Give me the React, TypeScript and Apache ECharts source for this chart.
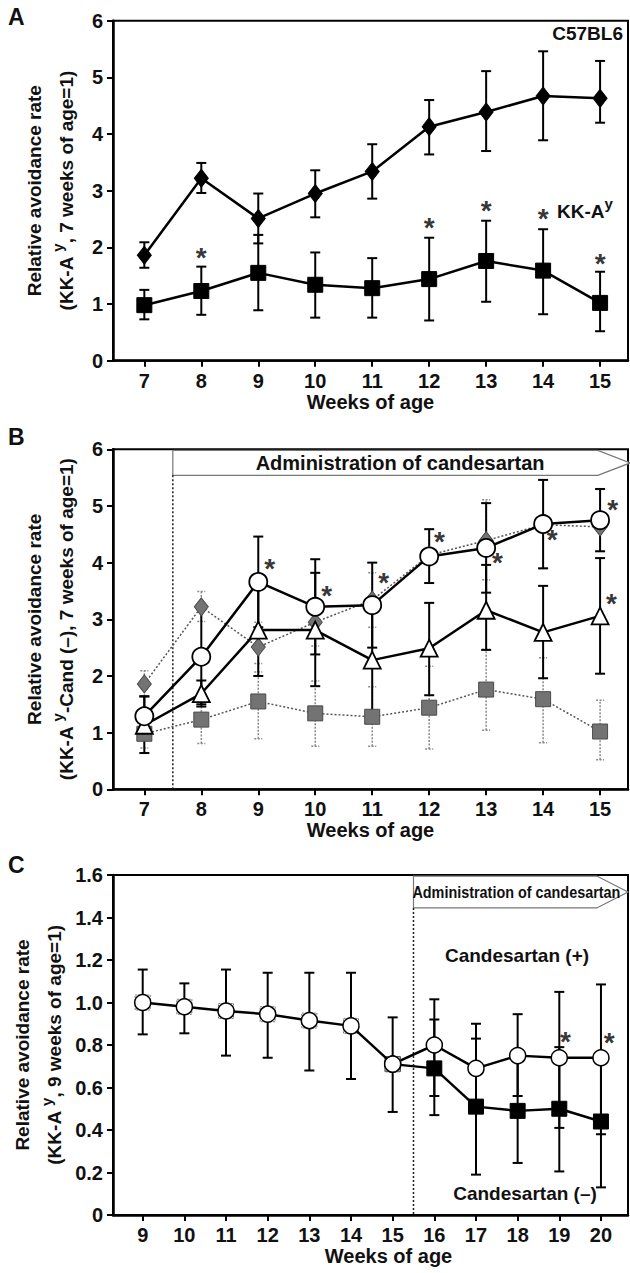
import { useEffect, useRef } from 'react';
import * as echarts from 'echarts';

const FONT = '"Liberation Sans", Arial, Helvetica, sans-serif';

// ---------- Panel A / B shared data ----------
const weeksAB = [7, 8, 9, 10, 11, 12, 13, 14, 15];
const c57Mean = [1.86, 3.22, 2.51, 2.95, 3.34, 4.13, 4.39, 4.67, 4.63];
const c57Low = [1.64, 2.96, 2.07, 2.53, 2.86, 3.64, 3.70, 3.89, 4.20];
const c57High = [2.09, 3.49, 2.95, 3.36, 3.82, 4.60, 5.11, 5.46, 5.29];
const kkMean = [0.98, 1.23, 1.55, 1.34, 1.28, 1.44, 1.76, 1.59, 1.02];
const kkLow = [0.73, 0.81, 0.89, 0.76, 0.76, 0.71, 1.04, 0.82, 0.52];
const kkHigh = [1.25, 1.66, 2.22, 1.91, 1.81, 2.17, 2.47, 2.32, 1.57];
const starAX = [8, 12, 13, 14, 15];
const starAY = [1.94, 2.48, 2.78, 2.63, 1.84];

// ---------- Panel B ----------
const circMean = [1.29, 2.34, 3.66, 3.22, 3.25, 4.11, 4.26, 4.68, 4.75];
const circLow = [0.94, 1.50, 2.86, 2.38, 2.50, 3.64, 3.47, 3.90, 4.20];
const circHigh = [1.64, 3.18, 4.46, 4.06, 4.00, 4.59, 5.05, 5.46, 5.30];
const triMean = [1.13, 1.69, 2.81, 2.81, 2.28, 2.49, 3.16, 2.77, 3.06];
const triLow = [0.64, 1.46, 2.00, 1.82, 1.30, 1.66, 2.46, 1.96, 2.04];
const triHigh = [1.64, 1.92, 3.60, 3.82, 3.26, 3.29, 3.96, 3.59, 4.08];
const starBX = [9.2, 10.2, 11.2, 12.18, 13.2, 14.16, 15.22, 15.2];
const starBY = [4.02, 3.54, 3.78, 4.49, 4.13, 4.53, 5.07, 3.40];

// ---------- Panel C ----------
const weeksPre = [9, 10, 11, 12, 13, 14, 15];
const preMean = [1.0, 0.98, 0.96, 0.945, 0.915, 0.89, 0.71];
const preLow = [0.85, 0.855, 0.75, 0.74, 0.68, 0.64, 0.485];
const preHigh = [1.155, 1.09, 1.155, 1.14, 1.14, 1.14, 0.93];
const weeksPost = [15, 16, 17, 18, 19, 20];
const plusMean = [0.71, 0.80, 0.69, 0.75, 0.74, 0.74];
const minusMean = [0.71, 0.69, 0.51, 0.49, 0.50, 0.44];
const weeksTreat = [16, 17, 18, 19, 20];
const plusLow = [0.56, 0.48, 0.56, 0.41, 0.38];
const plusHigh = [1.015, 0.90, 0.945, 1.05, 1.085];
const minusLow = [0.47, 0.19, 0.245, 0.205, 0.13];
const minusHigh = [0.92, 0.83, 0.735, 0.79, 0.74];
const starCX = [19.15, 20.2];
const starCY = [0.85, 0.845];

const ticksAB = [7, 8, 9, 10, 11, 12, 13, 14, 15];
const ticksC = [9, 10, 11, 12, 13, 14, 15, 16, 17, 18, 19, 20];

const pts = (xs: number[], ys: number[]) => xs.map((x, i) => [x, ys[i]]);

function errSeries(idx: number, xs: number[], lo: number[], hi: number[], color: string, dashed: boolean, lw: number, cap: number, z: number) {
  return {
    type: 'custom',
    xAxisIndex: idx,
    yAxisIndex: idx,
    z,
    silent: true,
    clip: false,
    data: xs.map((x, i) => [x, lo[i], hi[i]]),
    encode: { x: 0, y: [1, 2] },
    renderItem: (_p: any, api: any) => {
      const x = api.value(0);
      const a = api.coord([x, api.value(1)]);
      const b = api.coord([x, api.value(2)]);
      const style = { stroke: color, lineWidth: lw, lineDash: dashed ? [2, 1.5] : null, fill: null };
      return {
        type: 'group',
        children: [
          { type: 'line', shape: { x1: a[0], y1: a[1], x2: b[0], y2: b[1] }, style },
          { type: 'line', shape: { x1: a[0] - cap, y1: a[1], x2: a[0] + cap, y2: a[1] }, style },
          { type: 'line', shape: { x1: b[0] - cap, y1: b[1], x2: b[0] + cap, y2: b[1] }, style },
        ],
      };
    },
  };
}

function lineSeries(idx: number, xs: number[], ys: number[], o: any) {
  return {
    type: 'line',
    xAxisIndex: idx,
    yAxisIndex: idx,
    data: pts(xs, ys),
    symbol: o.symbol,
    symbolSize: o.size,
    z: o.z ?? 4,
    silent: true,
    itemStyle: { color: o.fill, borderColor: o.border, borderWidth: o.bw ?? 2, opacity: 1 },
    lineStyle: { color: o.lineColor ?? '#000', width: o.lw ?? 2.5, type: o.dash ? [2, 2] : 'solid' },
  };
}

function starSeries(idx: number, xs: number[], ys: number[]) {
  return {
    type: 'scatter',
    xAxisIndex: idx,
    yAxisIndex: idx,
    data: pts(xs, ys),
    symbolSize: 1,
    z: 8,
    silent: true,
    itemStyle: { color: 'rgba(0,0,0,0)' },
    label: {
      show: true,
      position: 'inside',
      formatter: '*',
      fontSize: 28,
      fontWeight: 'bold',
      color: '#000',
      fontFamily: FONT,
      offset: [0, 7],
    },
  };
}

function arrowSeries(idx: number, c: any) {
  return {
    type: 'custom',
    xAxisIndex: idx,
    yAxisIndex: idx,
    z: 1,
    silent: true,
    clip: false,
    data: [[c.x0, c.yTop]],
    renderItem: (_p: any, api: any) => {
      const tl = api.coord([c.x0, c.yTop]);
      const br = api.coord([c.x1, c.yBot]);
      const tip = api.coord([c.xTip, (c.yTop + c.yBot) / 2]);
      const base = api.coord([c.x0, 0]);
      const tc = api.coord([c.textX, (c.yTop + c.yBot) / 2]);
      return {
        type: 'group',
        children: [
          {
            type: 'polygon',
            shape: { points: [[tl[0], tl[1]], [br[0], tl[1]], [tip[0], tip[1]], [br[0], br[1]], [tl[0], br[1]]] },
            style: { fill: '#fff', stroke: '#777', lineWidth: 1.2 },
          },
          {
            type: 'line',
            shape: { x1: tl[0], y1: br[1], x2: base[0], y2: base[1] },
            style: { stroke: '#222', lineWidth: 1.5, lineDash: [2, 2] },
          },
          {
            type: 'text',
            x: tc[0],
            y: tc[1],
            scaleX: c.scaleX,
            style: { text: 'Administration of candesartan', font: c.font, fill: '#111', align: 'center', verticalAlign: 'middle' },
          },
        ],
      };
    },
  };
}

const tickStyle = { fontSize: 20, fontWeight: 'bold', color: '#111', fontFamily: FONT };

function xAxis(i: number, min: number, max: number, ticks: number[], padLeft: number) {
  return {
    type: 'value',
    gridIndex: i,
    min,
    max,
    axisLine: { show: true, onZero: false, lineStyle: { color: '#000', width: 2.5 } },
    axisTick: { show: true, length: 6, lineStyle: { color: '#000', width: 2 }, customValues: ticks },
    axisLabel: { ...tickStyle, margin: 10, customValues: ticks },
    splitLine: { show: false },
    name: 'Weeks of age',
    nameLocation: 'middle',
    nameGap: 31,
    nameTextStyle: { fontSize: 20, fontWeight: 'bold', color: '#111', fontFamily: FONT, padding: [0, 0, 0, padLeft] },
  };
}

function yAxis(i: number, max: number, interval: number, second: string[], fmt: any) {
  return {
    type: 'value',
    gridIndex: i,
    min: 0,
    max,
    interval,
    axisLine: { show: true, lineStyle: { color: '#000', width: 2.5 } },
    axisTick: { show: true, length: 6, lineStyle: { color: '#000', width: 2 } },
    axisLabel: { ...tickStyle, margin: 10, formatter: fmt },
    splitLine: { show: false },
    name: '{t|Relative avoidance rate}\n{t|' + second[0] + '}{s|y}{t|' + second[1] + '}',
    nameLocation: 'middle',
    nameGap: 31,
    nameTextStyle: {
      rich: {
        t: { fontSize: 19, fontWeight: 'bold', color: '#111', fontFamily: FONT, lineHeight: 32 },
        s: { fontSize: 15, fontWeight: 'bold', color: '#111', fontFamily: FONT, verticalAlign: 'top', lineHeight: 22 },
      },
    },
  };
}

export default function App() {
  const ref = useRef<HTMLDivElement>(null);
  useEffect(() => {
    document.body.style.margin = '0';
    if (!ref.current) return;
    const chart = echarts.init(ref.current, null, { renderer: 'svg' });
    const grid = (top: number) => ({ left: 113, top, width: 515, height: 340, show: true, borderColor: '#000', borderWidth: 2 });

    const blackDiamond = { symbol: 'diamond', size: [14, 18], fill: '#000', border: '#000', bw: 1 };
    const blackSquare = { symbol: 'rect', size: 15, fill: '#000', border: '#000', bw: 1 };

    const option: any = {
      animation: false,
      backgroundColor: '#fff',
      grid: [grid(20.7), grid(449.3), grid(875)],
      xAxis: [
        xAxis(0, 6.45, 15.49, ticksAB, 0),
        xAxis(1, 6.45, 15.49, ticksAB, 0),
        xAxis(2, 8.287, 20.649, ticksC, 36),
      ],
      yAxis: [
        yAxis(0, 6, 1, ['(KK-A ', ', 7 weeks of age=1)'], (v: number) => String(v)),
        yAxis(1, 6, 1, ['(KK-A ', '-Cand (\u2013), 7 weeks of age=1)'], (v: number) => String(v)),
        yAxis(2, 1.6, 0.2, ['(KK-A ', ', 9 weeks of age=1)'], (v: number) => (Math.abs(v) < 1e-9 ? '0' : v.toFixed(1))),
      ],
      graphic: [
        { type: 'text', left: 8, top: 5, style: { text: 'A', font: 'bold 23px ' + FONT, fill: '#111' } },
        { type: 'text', left: 8, top: 425, style: { text: 'B', font: 'bold 23px ' + FONT, fill: '#111' } },
        { type: 'text', left: 8, top: 853, style: { text: 'C', font: 'bold 23px ' + FONT, fill: '#111' } },
        { type: 'text', x: 623, y: 33, style: { text: 'C57BL6', font: 'bold 19px ' + FONT, fill: '#111', align: 'right', verticalAlign: 'middle' } },
        {
          type: 'text',
          x: 557,
          y: 211,
          style: {
            text: '{a|KK-A}{s|y}',
            align: 'left',
            verticalAlign: 'middle',
            rich: {
              a: { font: 'bold 19px ' + FONT, fill: '#111', lineHeight: 30 },
              s: { font: 'bold 15px ' + FONT, fill: '#111', verticalAlign: 'top', lineHeight: 20 },
            },
          },
        },
        { type: 'text', x: 517, y: 955, style: { text: 'Candesartan (+)', font: 'bold 19px ' + FONT, fill: '#111', align: 'center', verticalAlign: 'middle' } },
        { type: 'text', x: 525, y: 1193, style: { text: 'Candesartan (\u2013)', font: 'bold 19px ' + FONT, fill: '#111', align: 'center', verticalAlign: 'middle' } },
      ],
      series: [
        // ----- Panel A -----
        errSeries(0, weeksAB, c57Low, c57High, '#000', false, 2, 5, 2),
        errSeries(0, weeksAB, kkLow, kkHigh, '#000', false, 2, 5, 2),
        lineSeries(0, weeksAB, c57Mean, blackDiamond),
        lineSeries(0, weeksAB, kkMean, blackSquare),
        starSeries(0, starAX, starAY),

        // ----- Panel B -----
        arrowSeries(1, { x0: 7.5, x1: 14.96, xTip: 15.53, yTop: 5.98, yBot: 5.54, textX: 11.49, font: 'bold 20px ' + FONT, scaleX: 1 }),
        errSeries(1, weeksAB, c57Low, c57High, '#888', true, 1.5, 4, 2),
        errSeries(1, weeksAB, kkLow, kkHigh, '#888', true, 1.5, 4, 2),
        lineSeries(1, weeksAB, c57Mean, { symbol: 'diamond', size: [14, 18], fill: '#737373', border: '#4a4a4a', bw: 1, lineColor: '#555', lw: 1.5, dash: true, z: 3 }),
        lineSeries(1, weeksAB, kkMean, { symbol: 'rect', size: 15, fill: '#737373', border: '#4a4a4a', bw: 1, lineColor: '#555', lw: 1.5, dash: true, z: 3 }),
        errSeries(1, weeksAB, triLow, triHigh, '#000', false, 2, 5, 3),
        errSeries(1, weeksAB, circLow, circHigh, '#000', false, 2, 5, 3),
        lineSeries(1, weeksAB, triMean, { symbol: 'triangle', size: 17, fill: '#fff', border: '#000', bw: 1.8, z: 5 }),
        lineSeries(1, weeksAB, circMean, { symbol: 'circle', size: 18, fill: '#fff', border: '#000', bw: 1.8, z: 6 }),
        starSeries(1, starBX, starBY),

        // ----- Panel C -----
        arrowSeries(2, { x0: 15.5, x1: 19.9, xTip: 20.65, yTop: 1.595, yBot: 1.445, textX: 17.97, font: 'bold 16px ' + FONT, scaleX: 0.9 }),
        errSeries(2, weeksPre, preLow, preHigh, '#000', false, 2, 5, 2),
        errSeries(2, weeksTreat, minusLow, minusHigh, '#000', false, 2, 5, 2),
        errSeries(2, weeksTreat, plusLow, plusHigh, '#000', false, 2, 5, 2),
        lineSeries(2, weeksPost, minusMean, { symbol: 'rect', size: 15, fill: '#000', border: '#000', bw: 1, z: 4 }),
        lineSeries(2, weeksPost, plusMean, { symbol: 'circle', size: 16, fill: '#fff', border: '#000', bw: 1.5, z: 5 }),
        {
          type: 'scatter',
          xAxisIndex: 2,
          yAxisIndex: 2,
          data: pts(weeksPre, preMean),
          symbol: 'rect',
          symbolSize: 15,
          z: 5,
          silent: true,
          itemStyle: { color: '#fff', borderColor: '#555', borderWidth: 1, borderType: [2, 1] },
        },
        lineSeries(2, weeksPre, preMean, { symbol: 'circle', size: 16, fill: '#fff', border: '#000', bw: 1.5, z: 6 }),
        starSeries(2, starCX, starCY),
      ],
    };
    chart.setOption(option);
    return () => chart.dispose();
  }, []);
  return <div ref={ref} style={{ width: 630, height: 1273 }} />;
}
